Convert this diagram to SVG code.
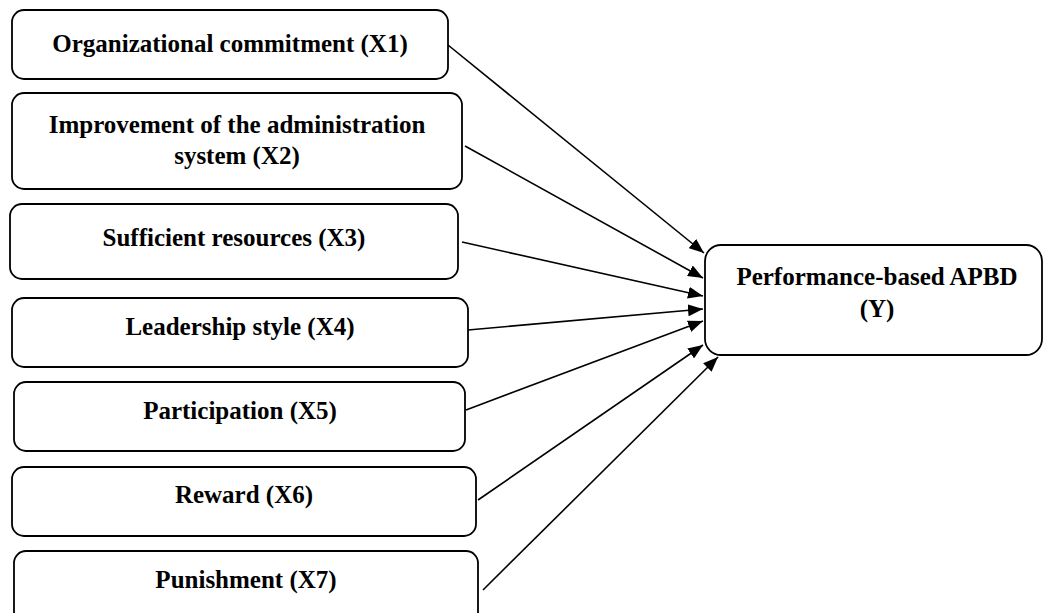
<svg xmlns="http://www.w3.org/2000/svg" width="1044" height="613" viewBox="0 0 1044 613">
  <style>
    .box { fill: #ffffff; stroke: #000000; stroke-width: 1.8; }
    .lbl { font-family: "Liberation Serif", "Times New Roman", serif; font-weight: bold; font-size: 25px; fill: #000000; text-anchor: middle; }
    .edge { stroke: #000000; stroke-width: 1.6; fill: none; marker-end: url(#arrow); }
  </style>
  <defs>
    <marker id="arrow" markerUnits="userSpaceOnUse" markerWidth="16" markerHeight="12" refX="15" refY="6" orient="auto">
      <path d="M0,0 L15,6 L0,12 z" fill="#000000"/>
    </marker>
  </defs>
  <rect width="1044" height="613" fill="#ffffff"/>

  <g id="connectors">
    <line class="edge" x1="448" y1="45" x2="704" y2="253"/>
    <line class="edge" x1="465" y1="146" x2="703" y2="278"/>
    <line class="edge" x1="462" y1="242" x2="703" y2="296"/>
    <line class="edge" x1="468" y1="330" x2="703" y2="309"/>
    <line class="edge" x1="466" y1="410" x2="703" y2="321"/>
    <line class="edge" x1="478" y1="500" x2="703" y2="345"/>
    <line class="edge" x1="483" y1="590" x2="718" y2="357"/>
  </g>

  <g id="node-x1">
    <rect class="box" x="12" y="10" width="436" height="69" rx="12"/>
    <text class="lbl" x="230" y="52">Organizational commitment (X1)</text>
  </g>
  <g id="node-x2">
    <rect class="box" x="12" y="93" width="450" height="96" rx="12"/>
    <text class="lbl" x="237" y="133">Improvement of the administration</text>
    <text class="lbl" x="237" y="164">system (X2)</text>
  </g>
  <g id="node-x3">
    <rect class="box" x="10" y="204" width="448" height="75" rx="12"/>
    <text class="lbl" x="234" y="246">Sufficient resources (X3)</text>
  </g>
  <g id="node-x4">
    <rect class="box" x="12" y="298" width="456" height="69" rx="12"/>
    <text class="lbl" x="240" y="335">Leadership style (X4)</text>
  </g>
  <g id="node-x5">
    <rect class="box" x="14" y="382" width="451" height="69" rx="12"/>
    <text class="lbl" x="240" y="419">Participation (X5)</text>
  </g>
  <g id="node-x6">
    <rect class="box" x="12" y="467" width="464" height="69" rx="12"/>
    <text class="lbl" x="244" y="503">Reward (X6)</text>
  </g>
  <g id="node-x7">
    <rect class="box" x="14" y="551" width="464" height="75" rx="12"/>
    <text class="lbl" x="246" y="588">Punishment (X7)</text>
  </g>
  <g id="node-y">
    <rect class="box" x="705" y="245" width="337" height="110" rx="16"/>
    <text class="lbl" x="877" y="285">Performance-based APBD</text>
    <text class="lbl" x="877" y="317">(Y)</text>
  </g>
</svg>
